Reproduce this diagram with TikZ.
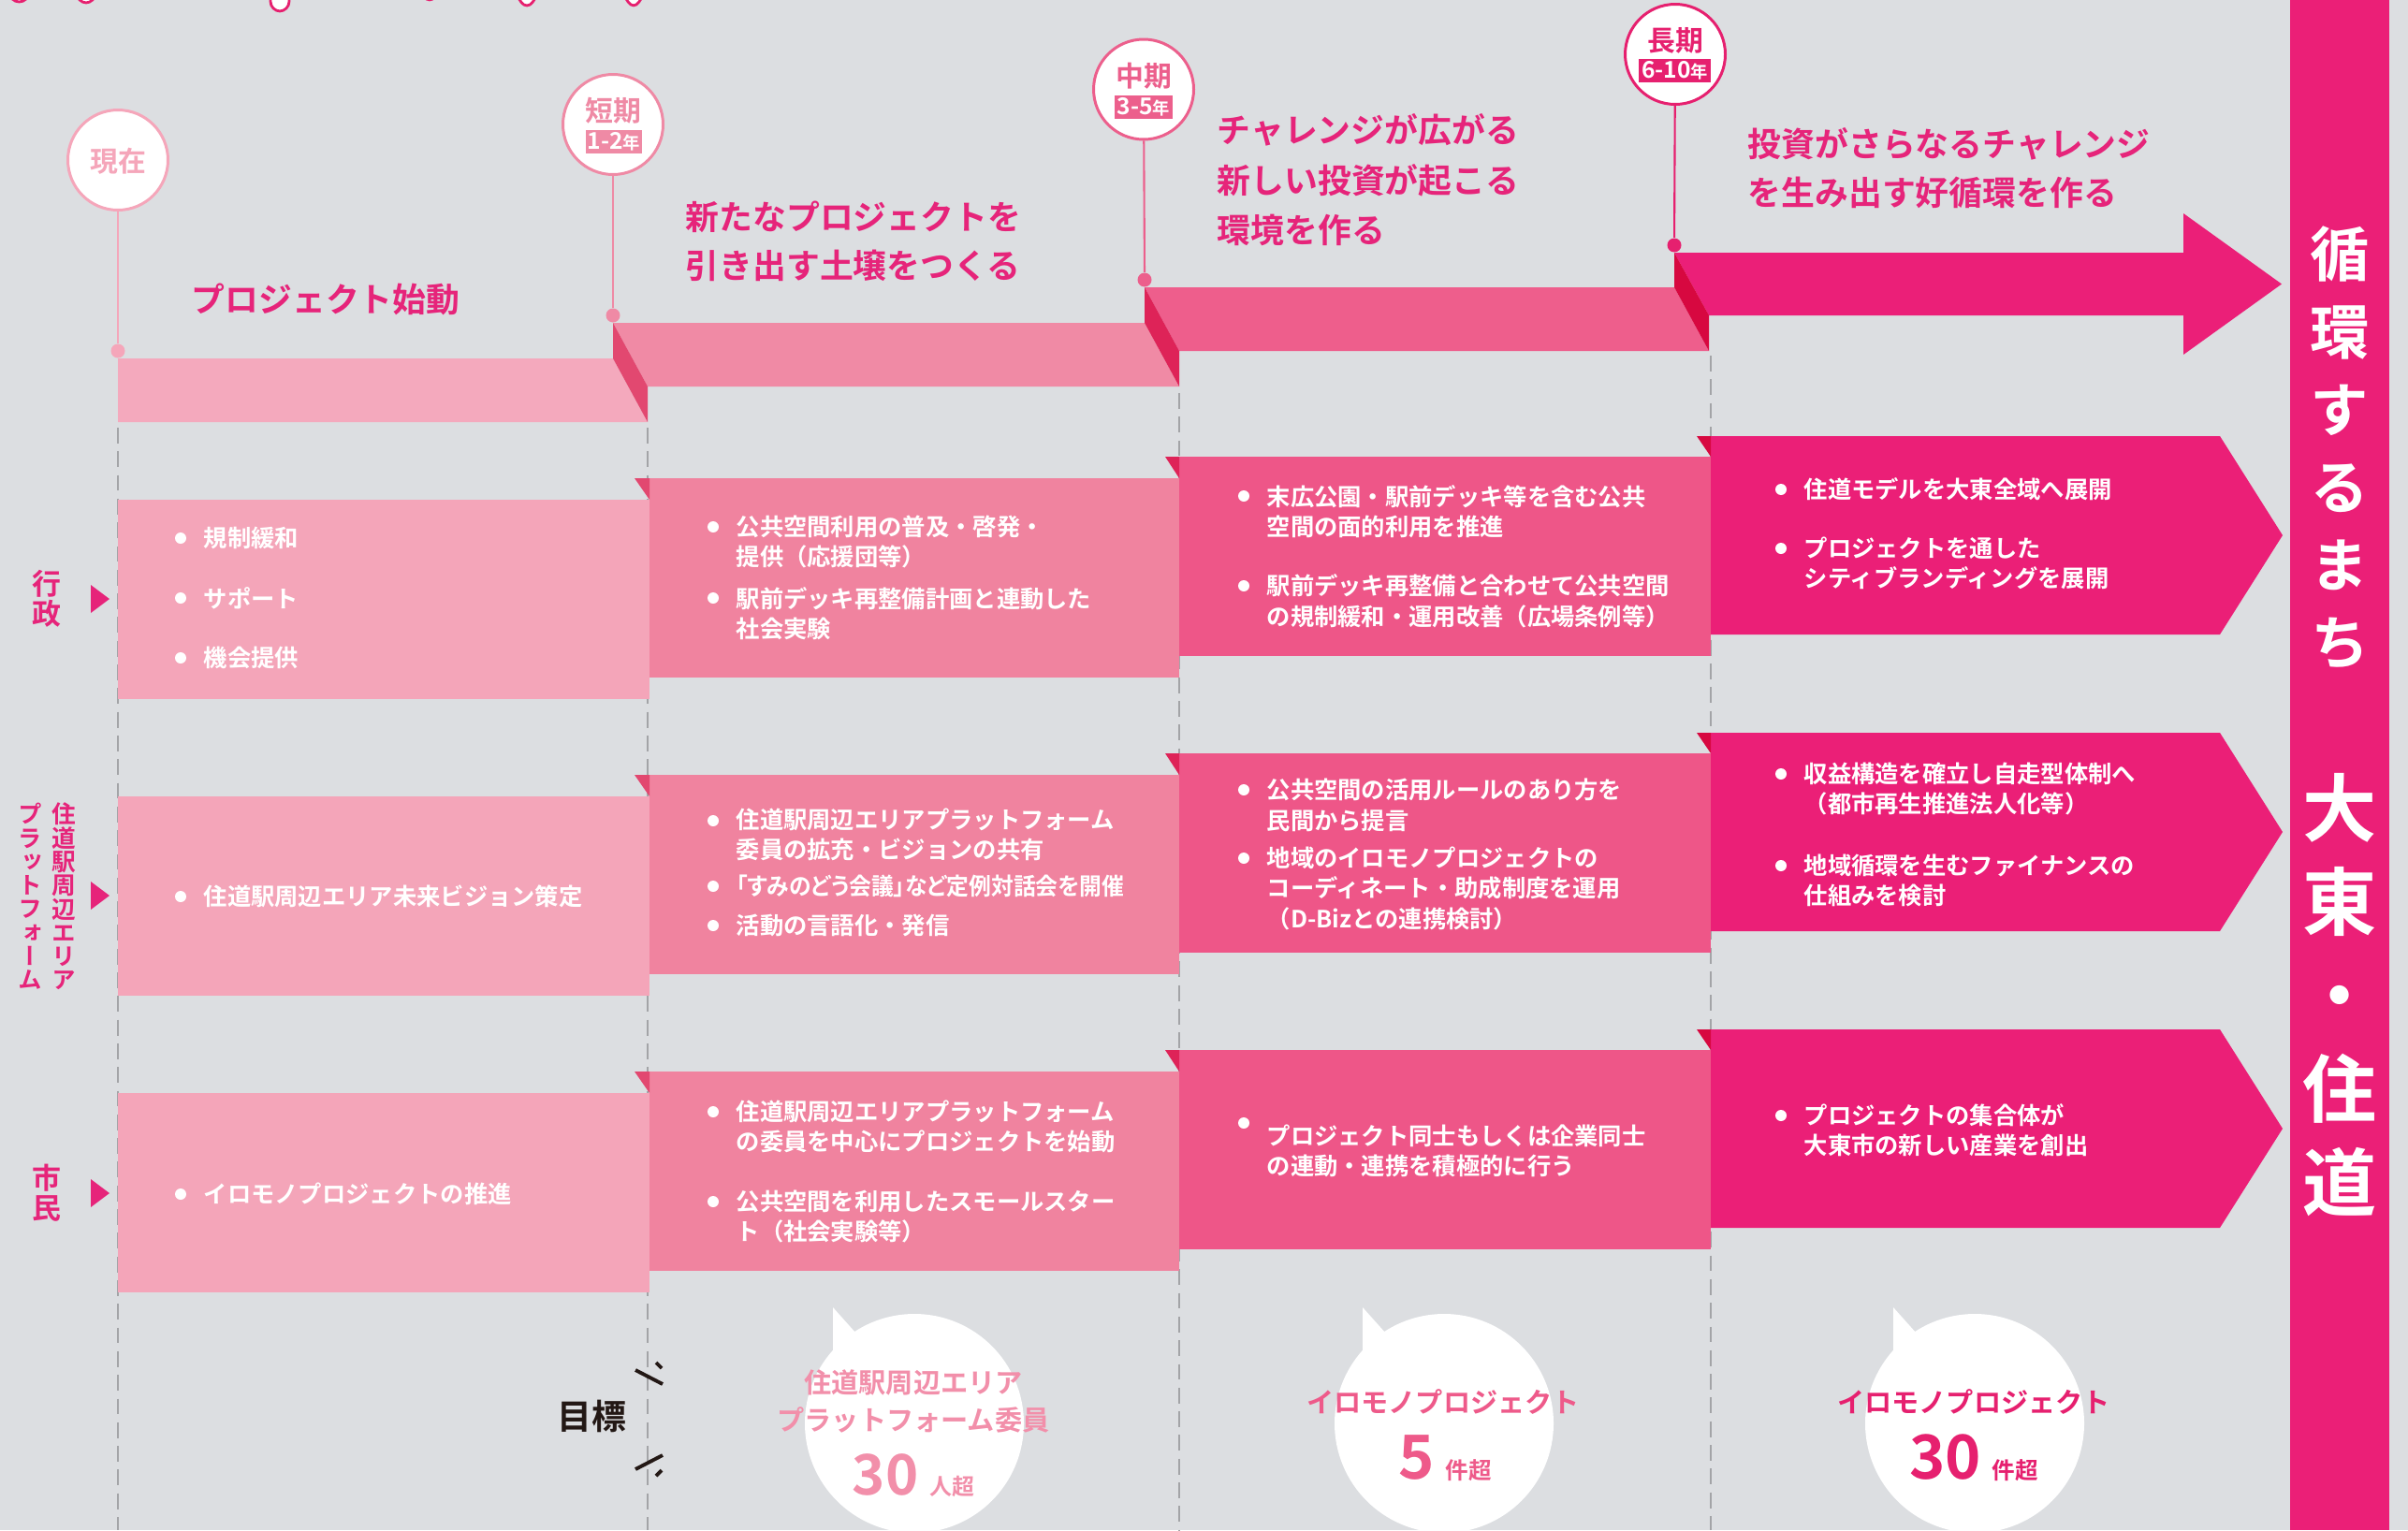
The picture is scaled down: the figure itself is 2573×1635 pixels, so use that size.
\documentclass[tikz,border=0pt]{standalone}
\usepackage{fontspec}
\usepackage{graphicx}
\setmainfont{Noto Sans CJK JP}[BoldFont={* Bold}]
\newfontfamily\jpb{Noto Sans CJK JP}[UprightFont={* Bold}]
\newfontfamily\jpv{Noto Sans CJK JP}[UprightFont={* Bold},RawFeature=+vert]
\newfontfamily\jpp{Noto Sans CJK JP}[UprightFont={* Bold},RawFeature=+palt]

\definecolor{bg}{HTML}{DCDEE1}
\definecolor{ttl}{HTML}{E6247A}
\definecolor{ms1}{HTML}{F5A6BA}
\definecolor{ms2}{HTML}{EF8AA5}
\definecolor{ms3}{HTML}{EC5F8C}
\definecolor{ms4}{HTML}{E6206F}
\definecolor{bar1}{HTML}{F4A9BD}
\definecolor{bar2}{HTML}{F08AA5}
\definecolor{bar3}{HTML}{EE5E8C}
\definecolor{bar4}{HTML}{EB1F78}
\definecolor{col1}{HTML}{F4A5B9}
\definecolor{col2}{HTML}{F0839F}
\definecolor{col3}{HTML}{EE5688}
\definecolor{col4}{HTML}{EB1F77}
\definecolor{foldA}{HTML}{E24870}
\definecolor{foldB}{HTML}{DE2358}
\definecolor{foldC}{HTML}{D70840}
\definecolor{bub1}{HTML}{F28FAA}
\definecolor{bub2}{HTML}{EE5A8A}
\definecolor{bub3}{HTML}{E6206F}
\definecolor{ink}{HTML}{231815}
\definecolor{dash}{HTML}{A3A4A7}

\tikzset{
  stone/.style={circle, fill=white, line width=0.85pt, minimum size=10.7mm, inner sep=0pt},
  dot/.style={circle, minimum size=1.5mm, inner sep=0pt},
  stonelbl/.style={font=\jpb\fontsize{8.5}{8.5}\selectfont, inner sep=0pt},
  yearbox/.style={text=white, inner sep=0pt, minimum height=2.5mm, font=\jpb\fontsize{7}{7}\selectfont},
  phase/.style={font=\jpb\fontsize{10.2}{14.8}\selectfont, text=ttl, align=left, anchor=west, inner sep=0pt},
  item/.style={font=\jpb\fontsize{7.2}{9.25}\selectfont, text=white, align=left, anchor=west, inner sep=0pt},
  side/.style={font=\jpv\fontsize{8.8}{9.1}\selectfont, text=ttl, align=center, inner sep=0pt},
  bubble/.style={circle, fill=white, minimum size=23.4mm, inner sep=0pt},
  goal/.style={font=\jpb\fontsize{8.3}{11.4}\selectfont, align=center, inner sep=0pt},
  count/.style={font=\jpb\fontsize{17}{17}\selectfont, anchor=base, inner sep=0pt},
  guide/.style={draw=dash, line width=0.55pt, dash pattern=on 4.8pt off 2.4pt},
}
% bullet item: name, x, y of text centre, y of bullet, text
\newcommand{\pitem}[5]{%
  \fill[white] (#2-24,#4) circle (6);
  \node[item] (#1) at (#2,#3) {#5};}

\begin{document}
\begin{tikzpicture}[x=0.1mm,y=-0.1mm]
  \useasboundingbox (0,0) rectangle (2573,1635);
  \fill[bg] (0,0) rectangle (2573,1635);
  \clip (0,0) rectangle (2573,1635);

  % bits of the heading cut off by the top edge
  \begin{scope}[draw=ms4, fill=white, line width=0.8pt, rounded corners=3]
    \filldraw (10,-20) rectangle (31,2);
    \filldraw (82,-20) rectangle (102,3);
    \filldraw (289,-20) rectangle (309,12);
    \filldraw (450,-8) -- (459,5) -- (468,-8);
    \filldraw (547,-12) -- (563,11) -- (579,-12);
    \filldraw (662,-12) -- (677,11) -- (692,-12);
  \end{scope}

  % dashed guides
  \foreach \gx/\gy in {126/457, 692/457, 1260/420, 1828/380}
    \draw[guide] (\gx,\gy) -- (\gx,1635);

  % stairs of the timeline
  \fill[bar1] (126,383) -- (655,383) -- (692,451) -- (126,451) -- cycle;
  \fill[bar2] (655,345) -- (1223,345) -- (1260,413) -- (692,413) -- cycle;
  \fill[bar3] (1223,307) -- (1789,307) -- (1826,375) -- (1260,375) -- cycle;
  \fill[bar4] (1789,270) -- (2333,270) -- (2333,228) -- (2438,303.5)
    -- (2333,379) -- (2333,337) -- (1826,337) -- cycle;
  \fill[foldA] (655,345) -- (692,413) -- (692,451) -- (655,383) -- cycle;
  \fill[foldB] (1223,307) -- (1260,375) -- (1260,413) -- (1223,345) -- cycle;
  \fill[foldC] (1789,270) -- (1826,337) -- (1826,375) -- (1789,307) -- cycle;

  % milestones
  \node[stone, draw=ms1] (now) at (126,171) {};
  \node[stonelbl, text=ms1] (nowlbl) at (126,172) {現在};
  \node[dot, fill=ms1] (nowdot) at (126,375) {};
  \draw[ms1, line width=0.6pt] (now) -- (nowdot);

  \node[stone, draw=ms2] (short) at (655,133) {};
  \node[stonelbl, text=ms2] (shortlbl) at (655,118) {短期};
  \node[yearbox, fill=ms2, minimum width=6mm] (shortyr) at (656,151.5)
    {1-2{\fontsize{5.2}{5.2}\selectfont 年}};
  \node[dot, fill=ms2] (shortdot) at (655,337) {};
  \draw[ms2, line width=0.6pt] (short) -- (shortdot);

  \node[stone, draw=ms3] (mid) at (1222,95.5) {};
  \node[stonelbl, text=ms3] (midlbl) at (1222,81) {中期};
  \node[yearbox, fill=ms3, minimum width=6.2mm] (midyr) at (1222,114)
    {3-5{\fontsize{5.2}{5.2}\selectfont 年}};
  \node[dot, fill=ms3] (middot) at (1223,299) {};
  \draw[ms3, line width=0.6pt] (mid) -- (middot);

  \node[stone, draw=ms4] (long) at (1790,58) {};
  \node[stonelbl, text=ms4] (longlbl) at (1790,43) {長期};
  \node[yearbox, fill=ms4, minimum width=7.7mm] (longyr) at (1789.5,75.5)
    {6-10{\fontsize{5.2}{5.2}\selectfont 年}};
  \node[dot, fill=ms4] (longdot) at (1789,262) {};
  \draw[ms4, line width=0.6pt] (long) -- (longdot);

  % phase titles
  \node[phase] (ph1) at (204,320) {プロジェクト始動};
  \node[phase] (ph2) at (732,257.5) {新たなプロジェクトを\\引き出す土壌をつくる};
  \node[phase, font=\jpb\fontsize{10.2}{15.2}\selectfont] (ph3) at (1300,192.5)
    {チャレンジが広がる\\新しい投資が起こる\\環境を作る};
  \node[phase] (ph4) at (1867,180) {投資がさらなるチャレンジ\\を生み出す好循環を作る};

  % rows of boxes
  \foreach \r in {0,317,634} {
    \fill[col1] (126,534+\r) rectangle (694,747+\r);
    \fill[col2] (694,511+\r) rectangle (1260,724+\r);
    \fill[foldA] (678,511+\r) -- (694,511+\r) -- (694,534+\r) -- cycle;
    \fill[col3] (1260,488+\r) rectangle (1828,701+\r);
    \fill[foldB] (1245,488+\r) -- (1260,488+\r) -- (1260,511+\r) -- cycle;
    \fill[col4] (1828,466+\r) -- (2372,466+\r) -- (2439,572+\r)
      -- (2372,678+\r) -- (1828,678+\r) -- cycle;
    \fill[foldC] (1813,466+\r) -- (1828,466+\r) -- (1828,488+\r) -- cycle;
  }

  % row labels
  \node[side] (gov) at (50,640) {行\\政};
  \fill[ttl] (97,625) -- (117,640) -- (97,655) -- cycle;
  \node[side, font=\jpv\fontsize{7.3}{7.2}\selectfont] (plata) at (68,958)
    {住\\道\\駅\\周\\辺\\エ\\リ\\ア};
  \node[side, font=\jpv\fontsize{7.3}{7.2}\selectfont] (platb) at (32,958)
    {プ\\ラ\\ッ\\ト\\フ\\ォ\\ー\\ム};
  \fill[ttl] (97,942) -- (117,957) -- (97,972) -- cycle;
  \node[side] (cit) at (50,1275) {市\\民};
  \fill[ttl] (97,1260) -- (117,1275) -- (97,1290) -- cycle;

  % column 1
  \pitem{g1a}{217}{575}{575}{規制緩和}
  \pitem{g1b}{217}{639}{639}{サポート}
  \pitem{g1c}{217}{703}{703}{機会提供}
  \pitem{p1a}{217}{958}{958}{住道駅周辺エリア未来ビジョン策定}
  \pitem{c1a}{217}{1276}{1276}{イロモノプロジェクトの推進}

  % column 2
  \pitem{g2a}{786}{579}{563}{公共空間利用の普及・啓発・\\提供（応援団等）}
  \pitem{g2b}{786}{655.5}{639}{駅前デッキ再整備計画と連動した\\社会実験}
  \pitem{p2a}{786}{892}{877}{住道駅周辺エリアプラットフォーム\\委員の拡充・ビジョンの共有}
  \pitem{p2b}{786}{947}{947}{\jpp\scalebox{0.94}[1]{「すみのどう会議」など定例対話会を開催}}
  \pitem{p2c}{786}{989}{989}{活動の言語化・発信}
  \pitem{c2a}{786}{1204}{1188}{住道駅周辺エリアプラットフォーム\\の委員を中心にプロジェクトを始動}
  \pitem{c2b}{786}{1300}{1284}{公共空間を利用したスモールスター\\ト（社会実験等）}

  % column 3
  \pitem{g3a}{1353}{546.5}{530}{末広公園・駅前デッキ等を含む公共\\空間の面的利用を推進}
  \pitem{g3b}{1353}{642.5}{626}{駅前デッキ再整備と合わせて公共空間\\の規制緩和・運用改善（広場条例等）}
  \pitem{p3a}{1353}{860.5}{844}{公共空間の活用ルールのあり方を\\民間から提言}
  \pitem{p3b}{1353}{949}{917}{地域のイロモノプロジェクトの\\コーディネート・助成制度を運用\\（D-Bizとの連携検討）}
  \pitem{c3a}{1353}{1230}{1200}{プロジェクト同士もしくは企業同士\\の連動・連携を積極的に行う}

  % column 4
  \pitem{g4a}{1927}{523}{523}{住道モデルを大東全域へ展開}
  \pitem{g4b}{1927}{602}{586}{プロジェクトを通した\\シティブランディングを展開}
  \pitem{p4a}{1927}{843}{827}{収益構造を確立し自走型体制へ\\（都市再生推進法人化等）}
  \pitem{p4b}{1927}{941}{925}{地域循環を生むファイナンスの\\仕組みを検討}
  \pitem{c4a}{1927}{1207.5}{1192}{プロジェクトの集合体が\\大東市の新しい産業を創出}

  % goals
  \node[font=\jpb\fontsize{10.5}{10.5}\selectfont, text=ink, inner sep=0pt] (goal) at (632,1513) {目標};
  \begin{scope}[ink, line width=1.1pt]
    \draw (679,1464) -- (708,1479);
    \draw (701,1456) -- (707,1462);
    \draw (679,1570) -- (708,1555);
    \draw (701,1577) -- (707,1571);
  \end{scope}

  \node[bubble] (bubA) at (977,1521) {};
  \fill[white] (890,1397) -- (890,1450) -- (915,1425) -- cycle;
  \node[goal, text=bub1] (bubAtxt) at (976,1497) {住道駅周辺エリア\\プラットフォーム委員};
  \node[count, text=bub1] (bubAnum) at (976,1597)
    {30\hspace{1.2mm}{\fontsize{6.8}{7}\selectfont 人超}};

  \node[bubble] (bubB) at (1543,1521) {};
  \fill[white] (1456,1397) -- (1456,1450) -- (1481,1425) -- cycle;
  \node[goal, text=bub2] (bubBtxt) at (1542,1498) {イロモノプロジェクト};
  \node[count, text=bub2, font=\jpb\fontsize{18.5}{18.5}\selectfont] (bubBnum) at (1544,1580)
    {5\hspace{1.2mm}{\fontsize{7}{7}\selectfont 件超}};

  \node[bubble] (bubC) at (2110,1521) {};
  \fill[white] (2023,1397) -- (2023,1450) -- (2048,1425) -- cycle;
  \node[goal, text=bub3] (bubCtxt) at (2109,1498) {イロモノプロジェクト};
  \node[count, text=bub3, font=\jpb\fontsize{18.5}{18.5}\selectfont] (bubCnum) at (2109,1580)
    {30\hspace{1.2mm}{\fontsize{7}{7}\selectfont 件超}};

  % band on the right
  \fill[col4] (2447,0) rectangle (2553,1635);
  \node[font=\jpv\fontsize{18}{23.6}\selectfont, text=white, align=center, inner sep=0pt]
    (mottoA) at (2500,478) {循\\環\\す\\る\\ま\\ち};
  \node[font=\jpv\fontsize{22.5}{28.5}\selectfont, text=white, align=center, inner sep=0pt]
    (mottoB) at (2500,1063) {大\\東\\・\\住\\道};
\end{tikzpicture}
\end{document}
